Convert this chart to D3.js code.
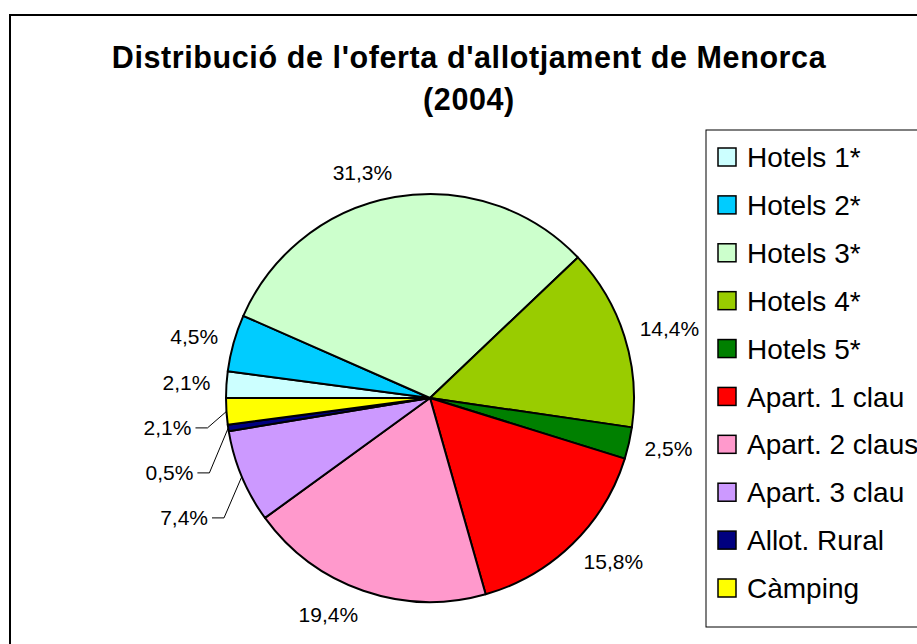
<!DOCTYPE html>
<html>
<head>
<meta charset="utf-8">
<script src="https://cdn.jsdelivr.net/npm/d3@7"></script>
<style>
  body { margin: 0; background: #fff; }
  svg { display: block; font-family: "Liberation Sans", Arial, sans-serif; }
</style>
</head>
<body>
<div id="chart"></div>
<script>
// chart values
var categories = ["Hotels 1*", "Hotels 2*", "Hotels 3*", "Hotels 4*", "Hotels 5*",
  "Apart. 1 clau", "Apart. 2 claus", "Apart. 3 clau", "Allot. Rural", "Càmping"];
var shares = [2.1, 4.5, 31.3, 14.4, 2.5, 15.8, 19.4, 7.4, 0.5, 2.1];
var colors = ["#CCFFFF", "#00CCFF", "#CCFFCC", "#99CC00", "#008000",
  "#FF0000", "#FF99CC", "#CC99FF", "#000080", "#FFFF00"];
var titleLines = ["Distribució de l'oferta d'allotjament de Menorca", "(2004)"];

var svgWidth = 917;
var svgHeight = 644;
var cx = 430, cy = 398, radius = 204;

var data = categories.map(function(c, i) {
  return { name: c, value: shares[i], color: colors[i] };
});

var svg = d3.select("#chart")
  .append("svg")
  .attr("width", svgWidth)
  .attr("height", svgHeight);

svg.append("rect")
  .attr("width", svgWidth).attr("height", svgHeight)
  .attr("fill", "#fff");

// chart area border (runs off the right/bottom edge)
svg.append("rect")
  .attr("x", 10).attr("y", 15)
  .attr("width", 930).attr("height", 650)
  .attr("fill", "none")
  .attr("stroke", "#000")
  .attr("stroke-width", 2);

// title
svg.append("g").selectAll("text")
  .data(titleLines)
  .enter()
  .append("text")
  .attr("x", 469)
  .attr("y", (d, i) => 68 + i * 42)
  .attr("text-anchor", "middle")
  .attr("font-size", 30.5)
  .attr("letter-spacing", 0.6)
  .attr("font-weight", "bold")
  .text(d => d);

// pie
var pie = d3.pie()
  .sort(null)
  .value(d => d.value)
  .startAngle(1.5 * Math.PI)
  .endAngle(3.5 * Math.PI);

var arc = d3.arc().innerRadius(0).outerRadius(radius);
var arcs = pie(data);

var pieGroup = svg.append("g")
  .attr("transform", `translate(${cx}, ${cy})`);

pieGroup.selectAll("path")
  .data(arcs)
  .enter()
  .append("path")
  .attr("d", arc)
  .attr("fill", d => d.data.color)
  .attr("stroke", "#000")
  .attr("stroke-width", 2)
  .attr("stroke-linejoin", "round");

// data labels
var fmt = v => d3.format(".1f")(v).replace(".", ",") + "%";
var labelGroup = svg.append("g");
var labelR = radius + 16;
var lineH = 18;

var labels = arcs.map(function(d) {
  var a = (d.startAngle + d.endAngle) / 2;
  var t = labelGroup.append("text")
    .attr("font-size", 21)
    .attr("text-anchor", "middle")
    .attr("dy", "0.35em")
    .text(fmt(d.data.value));
  var w = t.node().getComputedTextLength();
  var s = Math.sin(a), c = Math.cos(a);
  return {
    node: t, angle: a, w: w,
    x: cx + labelR * s + Math.sign(s) * w / 2,
    y: cy - labelR * c - c * lineH / 2,
    moved: false
  };
});

// push crowded labels on the left side downwards
var left = labels.filter(l => Math.sin(l.angle) < 0).sort((a, b) => a.y - b.y);
for (var i = 1; i < left.length; i++) {
  if (left[i].y < left[i - 1].y + 45) {
    left[i].y = left[i - 1].y + 45;
    left[i].x -= 19;
    left[i].moved = true;
  }
}

labels.forEach(function(l) {
  l.node.attr("x", l.x).attr("y", l.y);
  if (l.moved) {
    var xr = l.x + l.w / 2;
    var ex = cx + radius * Math.sin(l.angle);
    var ey = cy - radius * Math.cos(l.angle);
    labelGroup.append("polyline")
      .attr("points", [[xr + 4, l.y], [xr + 16, l.y], [ex, ey]].map(p => p.join(",")).join(" "))
      .attr("fill", "none")
      .attr("stroke", "#000")
      .attr("stroke-width", 1);
  }
});

// legend
var legend = svg.append("g");
legend.append("rect")
  .attr("x", 706).attr("y", 130)
  .attr("width", 240).attr("height", 497)
  .attr("fill", "#fff")
  .attr("stroke", "#000")
  .attr("stroke-width", 1);

var rowY = d3.scalePoint()
  .domain(categories)
  .range([157, 588]);

var rows = legend.selectAll("g.row")
  .data(data)
  .enter()
  .append("g")
  .attr("class", "row")
  .attr("transform", d => `translate(0, ${rowY(d.name)})`);

rows.append("rect")
  .attr("x", 718).attr("y", -9)
  .attr("width", 18).attr("height", 18)
  .attr("fill", d => d.color)
  .attr("stroke", "#000")
  .attr("stroke-width", 1.5);

rows.append("text")
  .attr("x", 747)
  .attr("dy", "0.36em")
  .attr("font-size", 28)
  .text(d => d.name);
</script>
</body>
</html>
